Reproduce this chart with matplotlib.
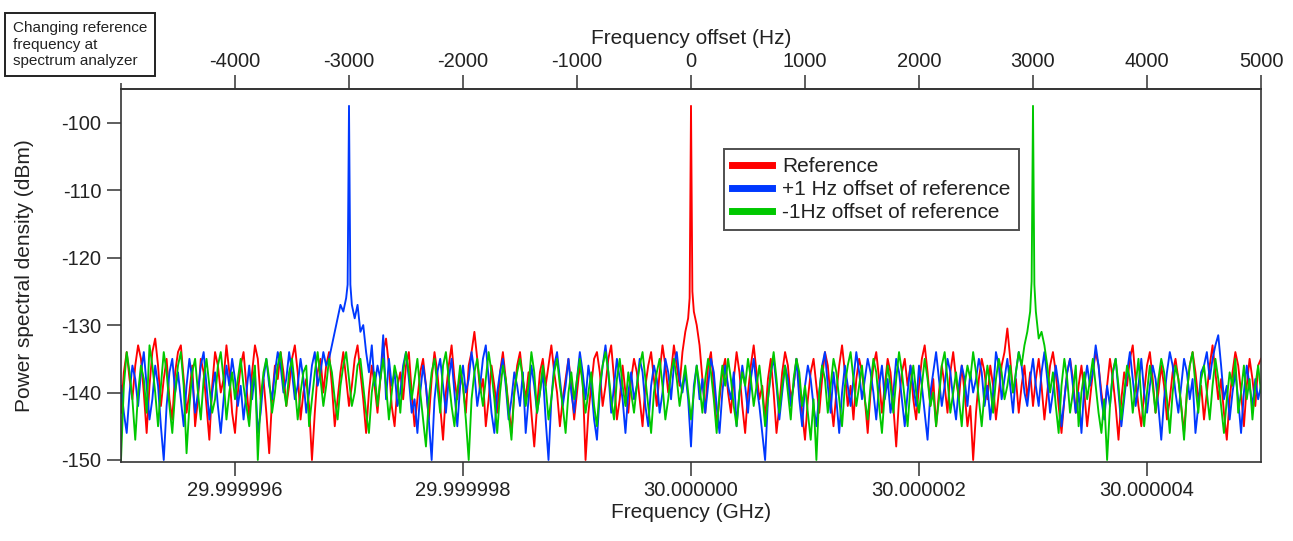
import numpy as np
import matplotlib
matplotlib.use("Agg")
import matplotlib.pyplot as plt
from matplotlib.ticker import FixedLocator, FuncFormatter

plt.rcParams['font.family'] = ['Liberation Sans', 'DejaVu Sans']
plt.rcParams['axes.unicode_minus'] = False

# ---------------- data ----------------
# noise grid: frequency offset (Hz), -5000 .. 5000 step 25
grid_start, grid_step = -5000, 25

red_db = [
    -143, -137, -134, -138, -141, -136, -133, -135, -140, -146, -139, -134, -132, -136, -142, -138, -135, -141, -144, -137,
    -134, -133, -138, -143, -140, -136, -145, -141, -135, -137, -142, -147, -139, -134, -136, -140, -138, -133, -137, -143,
    -146, -140, -136, -134, -139, -144, -137, -133, -135, -141, -138, -143, -149, -141, -136, -138, -134, -137, -142, -139,
    -135, -133, -137, -144, -140, -138, -142, -150, -143, -137, -135, -140, -136, -134, -139, -145, -141, -137, -134, -138,
    -142, -139, -135, -133, -137, -141, -146, -140, -136, -139, -143, -138, -134, -132, -136, -142, -145, -139, -137, -141,
    -136, -134, -140, -145, -141, -137, -135, -139, -144, -138, -134, -137, -142, -147, -140, -136, -133, -138, -141, -137,
    -139, -143, -136, -134, -131, -135, -140, -138, -145, -141, -136, -139, -143, -137, -134, -138, -142, -146, -140, -136,
    -134, -138, -141, -137, -143, -148, -142, -137, -135, -139, -136, -133, -137, -140, -145, -141, -138, -135, -139, -144,
    -140, -136, -138, -150, -143, -139, -135, -134, -137, -142, -139, -135, -133, -138, -144, -141, -136, -140, -143, -138,
    -135, -137, -141, -145, -139, -136, -134, -138, -142, -137, -133, -136, -140, -137, -133, -136, -139, -134, -131, -129,
    -97.5, -128, -130, -133, -138, -143, -136, -134, -139, -145, -141, -137, -135, -140, -143, -138, -134, -137, -142, -146,
    -140, -136, -133, -137, -141, -139, -144, -138, -135, -140, -146, -142, -137, -134, -136, -141, -139, -135, -138, -143,
    -147, -141, -137, -135, -139, -143, -138, -134, -136, -141, -145, -140, -136, -133, -137, -142, -139, -144, -138, -135,
    -137, -141, -146, -140, -136, -134, -138, -143, -139, -135, -137, -142, -148, -141, -137, -135, -139, -136, -141, -144,
    -139, -135, -133, -137, -142, -138, -145, -140, -136, -139, -143, -137, -134, -138, -141, -136, -140, -145, -142, -150,
    -143, -138, -135, -137, -141, -136, -139, -144, -140, -136, -134, -130.5, -135, -140, -138, -143, -139, -136, -141, -137,
    -142, -138, -135, -139, -144, -140, -136, -134, -137, -142, -146, -141, -137, -135, -138, -143, -139, -136, -140, -145,
    -141, -137, -134, -136, -140, -143, -139, -135, -138, -142, -147, -141, -137, -139, -135, -133, -138, -142, -145, -140,
    -136, -134, -138, -143, -140, -136, -139, -144, -141, -137, -135, -138, -142, -146, -140, -136, -134, -137, -141, -139,
    -144, -140, -136, -133, -137, -141, -138, -143, -147, -141, -137, -134, -136, -140, -145, -139, -135, -138, -142, -136,
    -135,
]

blue_db = [
    -139, -143, -146, -140, -136, -138, -142, -137, -134, -139, -144, -141, -136, -139, -145, -150, -142, -137, -135, -140,
    -137, -141, -145, -139, -135, -138, -143, -140, -136, -134, -139, -144, -140, -137, -142, -146, -141, -136, -139, -135,
    -138, -142, -139, -144, -140, -136, -141, -137, -146, -143, -138, -135, -139, -141, -137, -134, -136, -140, -138, -134,
    -137, -141, -139, -135, -138, -143, -140, -136, -134, -139, -137, -134, -136, -135, -133, -131, -129, -127, -128, -126,
    -97.5, -127, -129, -127, -131, -130, -134, -137, -133, -139, -136, -138, -131.5, -141, -135, -139, -137, -142, -140, -136,
    -134, -138, -143, -141, -146, -140, -136, -139, -144, -150, -141, -137, -135, -139, -143, -138, -135, -140, -145, -139,
    -136, -140, -138, -134, -137, -142, -139, -135, -133, -138, -143, -146, -140, -137, -135, -139, -144, -141, -137, -139,
    -142, -137, -146, -141, -136, -139, -143, -140, -137, -144, -150, -141, -136, -134, -138, -142, -139, -135, -140, -143,
    -138, -134, -137, -141, -136, -139, -144, -147, -140, -136, -133, -137, -143, -139, -135, -138, -141, -146, -140, -137,
    -141, -139, -135, -137, -142, -145, -139, -136, -138, -143, -140, -135, -137, -141, -136, -134, -138, -140, -137, -141,
    -148, -139, -136, -141, -138, -143, -139, -135, -137, -142, -146, -140, -136, -139, -141, -137, -145, -140, -136, -139,
    -143, -138, -135, -139, -142, -146, -150, -141, -137, -135, -139, -144, -140, -136, -138, -142, -139, -135, -141, -145,
    -139, -136, -138, -142, -145, -140, -136, -134, -139, -143, -137, -141, -146, -140, -136, -139, -142, -138, -134, -137,
    -141, -138, -135, -137, -140, -144, -139, -136, -141, -138, -143, -140, -135, -137, -141, -145, -140, -136, -139, -142,
    -136, -139, -143, -147, -140, -137, -134, -138, -142, -139, -135, -137, -141, -144, -139, -136, -138, -142, -137, -140,
    -138, -135, -137, -142, -139, -144, -140, -134, -136, -141, -138, -135, -139, -143, -137, -134, -136, -140, -142, -138,
    -135, -139, -142, -137, -134, -138, -143, -140, -136, -139, -145, -141, -137, -135, -139, -143, -140, -146, -139, -136,
    -139, -137, -133, -136, -141, -144, -139, -142, -137, -135, -140, -145, -141, -137, -134, -138, -142, -139, -135, -140,
    -143, -139, -136, -138, -142, -147, -141, -137, -134, -136, -140, -143, -139, -135, -137, -141, -138, -146, -142, -137,
    -136, -134, -138, -135, -133, -131.5, -136, -141, -139, -144, -140, -137, -141, -146, -140, -136, -139, -142, -138, -141,
    -139,
]

green_db = [
    -150, -139, -134, -137, -141, -147, -140, -136, -138, -143, -133, -136, -140, -145, -139, -134, -137, -142, -146, -140,
    -136, -134, -139, -149, -142, -137, -135, -140, -144, -138, -135, -139, -143, -141, -136, -134, -138, -144, -140, -137,
    -141, -138, -135, -139, -142, -145, -139, -136, -150, -141, -137, -135, -138, -143, -140, -136, -134, -139, -142, -137,
    -135, -139, -144, -140, -137, -136, -145, -141, -137, -134, -138, -142, -139, -135, -137, -141, -144, -139, -136, -134,
    -138, -142, -140, -136, -135, -139, -143, -146, -140, -137, -142, -138, -135, -139, -144, -140, -136, -138, -143, -137,
    -134, -137, -141, -138, -135, -140, -144, -148, -141, -137, -135, -139, -143, -136, -134, -138, -142, -145, -140, -136,
    -139, -144, -150, -141, -137, -135, -139, -142, -138, -134, -137, -141, -146, -140, -136, -138, -143, -147, -140, -137,
    -135, -138, -142, -139, -134, -137, -143, -140, -136, -139, -144, -141, -137, -135, -139, -142, -146, -140, -137, -141,
    -138, -135, -139, -143, -140, -137, -142, -145, -139, -136, -134, -137, -141, -144, -138, -135, -139, -142, -137, -140,
    -143, -139, -136, -134, -138, -142, -146, -140, -137, -135, -139, -144, -141, -137, -135, -138, -142, -139, -136, -140,
    -144, -140, -136, -139, -143, -138, -135, -137, -141, -146, -140, -136, -139, -135, -138, -142, -145, -140, -137, -139,
    -135, -138, -142, -139, -136, -140, -145, -141, -137, -134, -138, -143, -139, -136, -140, -144, -138, -135, -137, -142,
    -139, -143, -147, -141, -150, -140, -136, -138, -143, -139, -135, -137, -141, -145, -139, -136, -134, -138, -142, -139,
    -136, -141, -144, -139, -135, -137, -142, -146, -140, -136, -139, -143, -138, -134, -137, -141, -145, -139, -136, -140,
    -143, -139, -135, -138, -142, -140, -145, -141, -136, -134, -138, -143, -140, -137, -141, -145, -139, -136, -138, -134,
    -137, -141, -145, -140, -136, -139, -143, -138, -135, -137, -141, -139, -136, -140, -137, -134, -136, -133, -131, -128,
    -97.5, -128, -132, -131, -133, -136, -140, -137, -142, -146, -139, -135, -138, -143, -140, -136, -145, -140, -137, -141,
    -138, -135, -139, -143, -146, -141, -150, -142, -137, -135, -139, -144, -140, -136, -138, -143, -139, -135, -141, -145,
    -140, -136, -139, -143, -138, -135, -137, -141, -146, -140, -136, -138, -142, -147, -140, -136, -134, -139, -143, -138,
    -136, -140, -144, -139, -135, -138, -142, -146, -141, -137, -139, -135, -143, -140, -136, -141, -138, -144, -139, -136,
    -140,
]

# fine points very close to each carrier (offset from carrier, Hz)
peak_dx = [-12, 12]
red_center, blue_center, green_center = 0, -3000, 3000
red_peak_db = [-126, -125]
blue_peak_db = [-124, -124]
green_peak_db = [-123.5, -124]

labels = ["Reference", "+1 Hz offset of reference", "-1Hz offset of reference"]
top_ticks = [-4000, -3000, -2000, -1000, 0, 1000, 2000, 3000, 4000, 5000]
bottom_ticks_ghz = [29.999996, 29.999998, 30.000000, 30.000002, 30.000004]
y_ticks = [-100, -110, -120, -130, -140, -150]
carrier_ghz = 30.0

colors = ["#ff0000", "#0038ff", "#00c800"]

for arr in (red_db, blue_db, green_db):
    assert len(arr) == 401, len(arr)


def build(noise, center, peak_db):
    x = grid_start + grid_step * np.arange(len(noise), dtype=float)
    xs = np.concatenate([x, center + np.array(peak_dx, dtype=float)])
    ys = np.concatenate([np.array(noise, dtype=float), np.array(peak_db, dtype=float)])
    order = np.argsort(xs, kind="stable")
    return xs[order], ys[order]


W, H = 1293, 541
fig = plt.figure(figsize=(W / 100, H / 100), dpi=100)
ax = fig.add_axes([121 / W, 1 - 462 / H, (1261 - 121) / W, (462 - 89) / H])

series = [
    (red_db, red_center, red_peak_db),
    (blue_db, blue_center, blue_peak_db),
    (green_db, green_center, green_peak_db),
]
for (noise, c, pk), col, lab in zip(series, colors, labels):
    xs, ys = build(noise, c, pk)
    ax.plot(xs, ys, color=col, lw=1.35, label=lab)

ax.set_xlim(-5000, 5000)
ax.set_ylim(-150.3, -95)

spine_col = "#333333"
for s in ax.spines.values():
    s.set_linewidth(1.2)
    s.set_color(spine_col)

# bottom axis: absolute frequency in GHz
bottom_pos = [(g - carrier_ghz) * 1e9 for g in bottom_ticks_ghz]
ax.xaxis.set_major_locator(FixedLocator(bottom_pos))
ax.xaxis.set_major_formatter(FuncFormatter(lambda v, p: f"{carrier_ghz + v * 1e-9:.6f}"))
ax.set_yticks(y_ticks)
ax.tick_params(axis="both", direction="out", length=10, width=1.1, color=spine_col,
               labelsize=14.5, labelcolor="#222222", pad=4)
ax.set_xlabel("Frequency (GHz)", fontsize=15, color="#222222", labelpad=2)
ax.set_ylabel("Power spectral density (dBm)", fontsize=15, color="#222222", labelpad=20)

# top axis: frequency offset
top = ax.secondary_xaxis("top")
top.set_xticks(top_ticks)
top.set_xticks([-5000], minor=True)
top.xaxis.set_major_formatter(FuncFormatter(lambda v, p: f"{int(round(v))}"))
top.tick_params(axis="x", which="major", direction="out", length=10, width=1.1,
                color=spine_col, labelsize=14.5, labelcolor="#222222", pad=3)
top.tick_params(axis="x", which="minor", direction="out", length=4, width=1.1, color=spine_col)
top.spines["top"].set_linewidth(1.2)
top.spines["top"].set_color(spine_col)
top.set_xlabel("Frequency offset (Hz)", fontsize=15, color="#222222", labelpad=6)

leg = ax.legend(loc="upper left", bbox_to_anchor=(724 / W, 1 - 149 / H),
                bbox_transform=fig.transFigure, borderaxespad=0, fontsize=15,
                frameon=True, fancybox=False, handlelength=1.9, handletextpad=0.5,
                labelspacing=0.18, borderpad=0.4)
frame = leg.get_frame()
frame.set_edgecolor("#222222")
frame.set_linewidth(1.4)
for h in leg.legend_handles:
    h.set_linewidth(5)
for t in leg.get_texts():
    t.set_color("#222222")

fig.text(13 / W, 1 - 21 / H, "Changing reference\nfrequency at\nspectrum analyzer",
         fontsize=11, color="#222222", ha="left", va="top", linespacing=1.25,
         bbox=dict(boxstyle="square,pad=0.5", fc="white", ec="#222222", lw=1.4))

fig.savefig("out.png", dpi=100)
